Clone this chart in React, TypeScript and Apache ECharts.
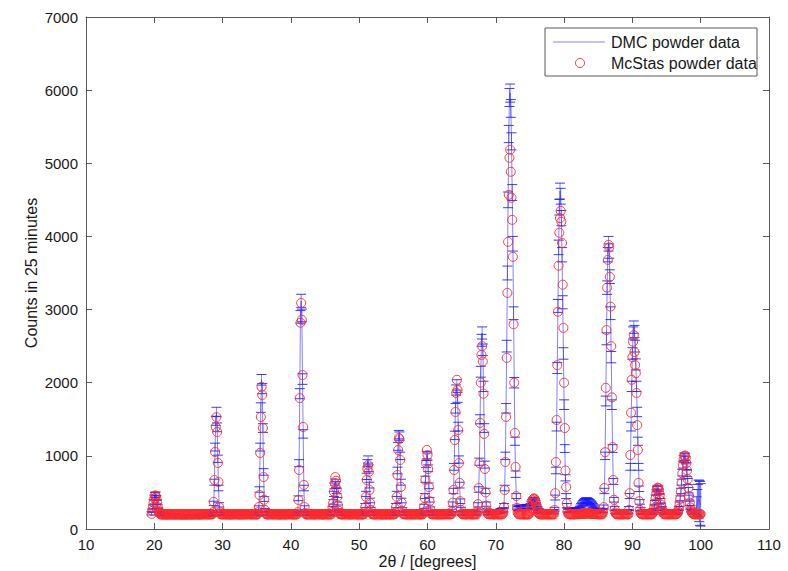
import React, { useEffect, useRef } from "react";
import * as echarts from "echarts";

// 2θ grid of the measurement (degrees)
const TWO_THETA_START = 19.6;
const TWO_THETA_STEP = 0.1;

// DMC measured counts, one row per degree (x.0 ... x.9)
const dmcCounts: number[] = [
  215, 250, 300, 370, // 19.6-19.9
  430, 465, 472, 425, 370, 310, 262, 232, 214, 208, // 20
  205, 210, 198, 202, 207, 195, 200, 204, 198, 193, // 21
  190, 186, 192, 183, 188, 180, 185, 182, 178, 184, // 22
  180, 176, 183, 178, 174, 181, 177, 172, 179, 175, // 23
  178, 173, 170, 176, 172, 168, 175, 171, 169, 174, // 24
  170, 166, 173, 168, 164, 171, 167, 163, 169, 172, // 25
  168, 174, 170, 176, 172, 178, 175, 180, 177, 183, // 26
  185, 190, 187, 193, 196, 192, 198, 201, 197, 203, // 27
  205, 200, 207, 203, 210, 206, 225, 350, 640, 1120, // 28
  1480, 1600, 1390, 960, 560, 330, 245, 215, 208, 212, // 29
  208, 212, 205, 215, 209, 204, 211, 207, 213, 206, // 30
  214, 209, 205, 212, 208, 216, 203, 210, 207, 213, // 31
  206, 211, 215, 208, 204, 212, 209, 214, 207, 210, // 32
  212, 207, 210, 216, 205, 209, 213, 206, 211, 208, // 33
  209, 214, 206, 211, 208, 215, 210, 205, 212, 209, // 34
  210, 206, 225, 290, 540, 1120, 1660, 2040, 1920, 1380, // 35
  780, 410, 255, 218, 208, 212, 206, 210, 214, 207, // 36
  211, 205, 209, 214, 207, 212, 208, 204, 213, 210, // 37
  206, 213, 209, 205, 211, 207, 215, 210, 204, 212, // 38
  209, 204, 212, 208, 214, 206, 210, 213, 207, 211, // 39
  213, 208, 205, 211, 207, 214, 209, 206, 212, 208, // 40
  235, 420, 900, 1850, 2900, 3120, 2920, 2050, 1300, 560, // 41
  290, 225, 207, 211, 205, 213, 209, 206, 212, 208, // 42
  207, 212, 209, 215, 206, 210, 204, 213, 208, 211, // 43
  212, 206, 210, 208, 214, 207, 211, 205, 209, 213, // 44
  208, 213, 206, 210, 215, 209, 204, 212, 207, 211, // 45
  225, 280, 370, 480, 590, 640, 610, 520, 400, 300, // 46
  245, 218, 209, 213, 207, 211, 206, 214, 210, 208, // 47
  212, 207, 215, 209, 204, 211, 208, 213, 206, 210, // 48
  209, 214, 207, 211, 216, 208, 205, 212, 209, 215, // 49
  211, 206, 213, 208, 210, 215, 207, 212, 235, 320, // 50
  480, 720, 900, 950, 830, 600, 390, 270, 220, 210, // 51
  214, 208, 212, 206, 211, 215, 209, 207, 213, 210, // 52
  207, 213, 209, 215, 208, 211, 206, 212, 210, 214, // 53
  212, 208, 215, 210, 206, 213, 209, 216, 211, 207, // 54
  213, 209, 215, 230, 320, 480, 800, 1130, 1290, 1270, // 55
  1000, 640, 390, 265, 220, 212, 208, 215, 210, 213, // 56
  209, 215, 211, 207, 214, 210, 216, 208, 212, 209, // 57
  214, 210, 207, 213, 216, 209, 212, 208, 215, 211, // 58
  210, 216, 212, 208, 230, 310, 450, 680, 890, 1010, // 59
  990, 830, 590, 400, 275, 222, 212, 216, 209, 214, // 60
  211, 217, 213, 209, 215, 212, 218, 210, 214, 211, // 61
  216, 212, 209, 215, 211, 218, 213, 210, 217, 214, // 62
  212, 218, 214, 210, 216, 213, 245, 340, 520, 850, // 63
  1280, 1650, 1900, 1970, 1800, 1400, 950, 600, 380, 270, // 64
  220, 214, 218, 212, 216, 220, 213, 217, 215, 219, // 65
  214, 220, 216, 212, 218, 215, 221, 217, 213, 219, // 66
  216, 222, 218, 245, 330, 540, 920, 1500, 2150, 2580, // 67
  2680, 2450, 1950, 1380, 880, 520, 340, 250, 218, 222, // 68
  220, 226, 223, 218, 225, 229, 222, 227, 231, 226, // 69
  229, 234, 230, 236, 241, 238, 245, 251, 248, 256, // 70
  262, 258, 320, 560, 1000, 1650, 2500, 3500, 4500, 5400, // 71
  5900, 5960, 5750, 5300, 4600, 3900, 2950, 2000, 1200, 750, // 72
  450, 300, 275, 282, 288, 279, 292, 286, 296, 290, // 73
  298, 291, 302, 295, 305, 299, 308, 301, 296, 290, // 74
  300, 320, 350, 370, 390, 400, 395, 380, 360, 330, // 75
  300, 280, 260, 250, 244, 238, 243, 236, 241, 235, // 76
  239, 233, 240, 236, 231, 238, 234, 241, 237, 232, // 77
  239, 235, 242, 238, 233, 240, 270, 430, 800, 1400, // 78
  2200, 3050, 3850, 4400, 4620, 4550, 4250, 3750, 3100, 2400, // 79
  1700, 1100, 700, 450, 320, 260, 245, 252, 248, 255, // 80
  250, 258, 253, 260, 256, 262, 258, 264, 260, 266, // 81
  262, 268, 264, 280, 300, 320, 335, 350, 360, 372, // 82
  380, 385, 392, 395, 390, 386, 380, 372, 365, 355, // 83
  345, 332, 320, 305, 290, 275, 262, 255, 250, 246, // 84
  252, 248, 255, 250, 246, 253, 249, 256, 300, 520, // 85
  1000, 1750, 2600, 3300, 3750, 3900, 3800, 3450, 2950, 2350, // 86
  1700, 1100, 650, 400, 280, 235, 228, 234, 230, 236, // 87
  232, 238, 234, 240, 236, 231, 237, 233, 239, 235, // 88
  231, 237, 233, 239, 235, 280, 450, 850, 1400, 1950, // 89
  2400, 2680, 2760, 2700, 2500, 2250, 1950, 1600, 1200, 850, // 90
  550, 370, 270, 230, 226, 232, 228, 234, 230, 225, // 91
  231, 227, 233, 229, 235, 230, 226, 232, 228, 234, // 92
  225, 255, 300, 360, 430, 500, 545, 560, 550, 510, // 93
  450, 385, 325, 280, 250, 230, 226, 232, 228, 234, // 94
  230, 236, 232, 228, 235, 231, 237, 233, 229, 236, // 95
  232, 238, 234, 230, 237, 233, 225, 245, 280, 340, // 96
  420, 520, 640, 770, 880, 960, 990, 985, 940, 860, // 97
  760, 650, 530, 430, 350, 295, 260, 240, 228, 235, // 98
  232, 238, 234, 240, 320, 360, 390, 410, 380, 350, // 99
  330, // 100.0
];

// DMC error bars of the last detector channels (99.4 - 100.0)
const dmcEdgeErrors: number[] = [120, 180, 220, 260, 280, 300, 290];
// statistical error scale of the DMC counts
const ERROR_SCALE = 1.6;

// McStas simulated counts, same grid
const mcstasCounts: number[] = [
  205, 248, 295, 362, // 19.6-19.9
  418, 458, 455, 430, 360, 300, 255, 226, 210, 203, // 20
  198, 202, 196, 200, 205, 199, 197, 203, 200, 196, // 21
  199, 203, 197, 201, 198, 204, 200, 196, 202, 199, // 22
  201, 197, 203, 199, 196, 202, 198, 204, 200, 197, // 23
  200, 196, 202, 198, 203, 199, 195, 201, 197, 203, // 24
  198, 204, 200, 196, 202, 198, 201, 197, 203, 199, // 25
  202, 198, 204, 200, 196, 203, 199, 201, 197, 202, // 26
  199, 203, 198, 202, 200, 205, 201, 197, 204, 200, // 27
  201, 198, 204, 200, 203, 199, 230, 370, 670, 1053, // 28
  1395, 1530, 1327, 903, 643, 300, 230, 205, 199, 202, // 29
  198, 203, 200, 205, 197, 202, 199, 204, 201, 196, // 30
  203, 199, 202, 197, 204, 200, 198, 205, 201, 199, // 31
  200, 205, 198, 202, 199, 203, 196, 201, 204, 198, // 32
  202, 197, 204, 200, 203, 198, 201, 205, 199, 203, // 33
  199, 204, 200, 197, 203, 201, 205, 198, 202, 200, // 34
  201, 198, 230, 300, 465, 1040, 1532, 1943, 1833, 1382, // 35
  711, 400, 260, 215, 200, 203, 198, 202, 199, 204, // 36
  200, 204, 197, 202, 199, 205, 201, 198, 203, 200, // 37
  202, 198, 203, 200, 196, 204, 199, 201, 205, 197, // 38
  199, 203, 201, 197, 202, 205, 198, 204, 200, 202, // 39
  204, 200, 198, 203, 199, 201, 205, 197, 202, 200, // 40
  230, 397, 807, 1790, 2820, 3090, 2860, 2105, 1395, 602, // 41
  300, 220, 199, 202, 197, 203, 200, 204, 198, 202, // 42
  199, 202, 204, 198, 201, 197, 203, 200, 205, 199, // 43
  203, 199, 201, 205, 198, 202, 200, 196, 204, 201, // 44
  200, 204, 198, 203, 199, 201, 205, 197, 202, 200, // 45
  230, 290, 355, 510, 630, 710, 660, 540, 440, 320, // 46
  250, 215, 201, 204, 198, 202, 199, 205, 200, 203, // 47
  198, 202, 205, 199, 203, 200, 196, 204, 201, 199, // 48
  203, 199, 201, 205, 198, 202, 204, 199, 200, 197, // 49
  201, 205, 199, 203, 200, 196, 204, 202, 230, 300, // 50
  440, 670, 820, 875, 780, 533, 355, 260, 215, 203, // 51
  199, 204, 200, 197, 203, 201, 205, 198, 202, 200, // 52
  204, 198, 202, 200, 196, 203, 199, 205, 201, 197, // 53
  200, 203, 199, 204, 201, 197, 202, 200, 205, 199, // 54
  203, 199, 204, 225, 300, 440, 739, 1080, 1245, 1230, // 55
  944, 575, 360, 250, 212, 201, 205, 199, 203, 200, // 56
  198, 203, 200, 205, 199, 202, 197, 204, 200, 203, // 57
  201, 197, 204, 200, 203, 199, 205, 201, 198, 202, // 58
  204, 200, 203, 199, 225, 300, 424, 670, 900, 1080, // 59
  1012, 820, 575, 380, 265, 215, 202, 199, 204, 200, // 60
  203, 199, 205, 201, 197, 204, 200, 202, 198, 205, // 61
  200, 204, 198, 203, 201, 205, 199, 202, 204, 200, // 62
  205, 201, 199, 204, 200, 203, 240, 360, 533, 807, // 63
  1217, 1600, 1860, 2040, 1900, 1354, 900, 630, 380, 260, // 64
  215, 203, 199, 205, 201, 204, 200, 198, 203, 201, // 65
  204, 200, 203, 199, 205, 201, 197, 203, 200, 204, // 66
  201, 205, 199, 240, 340, 560, 900, 1450, 2000, 2380, // 67
  2500, 2290, 1850, 1300, 820, 500, 320, 240, 212, 204, // 68
  200, 204, 199, 203, 206, 201, 198, 204, 200, 203, // 69
  199, 205, 201, 203, 198, 204, 200, 206, 202, 199, // 70
  204, 230, 300, 533, 916, 1532, 2339, 3228, 3926, 4569, // 71
  5075, 5185, 4884, 4528, 4227, 3721, 2800, 2000, 1313, 848, // 72
  450, 290, 230, 206, 201, 204, 199, 203, 200, 205, // 73
  201, 198, 204, 200, 203, 199, 205, 201, 197, 210, // 74
  240, 280, 320, 360, 390, 410, 420, 405, 380, 340, // 75
  300, 260, 230, 212, 203, 199, 204, 200, 202, 198, // 76
  203, 200, 205, 199, 202, 204, 198, 201, 205, 200, // 77
  202, 198, 204, 200, 203, 199, 260, 490, 916, 1490, // 78
  2240, 2970, 3600, 4050, 4250, 4350, 4200, 3910, 3340, 2750, // 79
  2000, 1380, 800, 575, 350, 240, 210, 204, 200, 203, // 80
  199, 205, 201, 204, 200, 198, 203, 206, 201, 204, // 81
  200, 205, 202, 207, 203, 209, 205, 211, 207, 213, // 82
  209, 214, 210, 215, 212, 216, 211, 214, 209, 212, // 83
  208, 211, 206, 209, 204, 207, 203, 206, 201, 204, // 84
  200, 203, 199, 205, 201, 204, 200, 230, 300, 560, // 85
  1050, 1930, 2720, 3300, 3680, 3885, 3850, 3447, 3040, 2500, // 86
  1800, 1120, 670, 400, 270, 225, 206, 201, 204, 199, // 87
  203, 200, 205, 201, 198, 204, 200, 203, 199, 205, // 88
  201, 204, 200, 203, 199, 260, 490, 1012, 1590, 2040, // 89
  2350, 2560, 2650, 2420, 2240, 2130, 1860, 1420, 1080, 630, // 90
  380, 260, 220, 204, 200, 203, 199, 205, 201, 204, // 91
  200, 203, 198, 204, 201, 205, 199, 202, 200, 204, // 92
  220, 245, 290, 350, 420, 490, 545, 565, 560, 525, // 93
  465, 395, 330, 280, 245, 222, 205, 200, 203, 199, // 94
  204, 200, 203, 198, 205, 201, 199, 204, 200, 203, // 95
  199, 205, 201, 203, 200, 204, 220, 240, 275, 330, // 96
  410, 510, 630, 760, 870, 950, 1000, 1005, 970, 900, // 97
  800, 680, 560, 450, 360, 295, 255, 230, 215, 205, // 98
  201, 204, 199, 203, 200, 205, 201, 198, 203, 200, // 99
  204, // 100.0
];

const xTitle = "2\u03b8 / [degrees]";
const yTitle = "Counts in 25 minutes";
const legendLabels = ["DMC powder data", "McStas powder data"];

const FONT = '"Liberation Sans", Arial, Helvetica, sans-serif';
const TEXT_COLOR = "#1a1a1a";
const AXIS_COLOR = "#5a5a5a";
const BLUE_LINE = "rgba(50,50,255,0.6)";
const BLUE_CAP = "rgba(25,25,255,0.85)";
const RED = "#ff2a2a";

const twoTheta = dmcCounts.map((_, i) =>
  Number((TWO_THETA_START + i * TWO_THETA_STEP).toFixed(1))
);

function dmcError(i: number, y: number): number {
  const edgeStart = dmcCounts.length - dmcEdgeErrors.length;
  if (i >= edgeStart) return dmcEdgeErrors[i - edgeStart];
  return ERROR_SCALE * Math.sqrt(y);
}

export default function App() {
  const ref = useRef<HTMLDivElement>(null);

  useEffect(() => {
    if (!ref.current) return;
    const chart = echarts.init(ref.current, null, { renderer: "svg" });

    const dmcLine = dmcCounts.map((y, i) => [twoTheta[i], y]);
    const dmcErr = dmcCounts.map((y, i) => [twoTheta[i], y, dmcError(i, y)]);
    const mcPoints = mcstasCounts.map((y, i) => [twoTheta[i], y]);

    const axisLine = { show: true, onZero: false, lineStyle: { color: AXIS_COLOR, width: 1 } };
    const axisTick = { show: true, inside: true, length: 6, lineStyle: { color: AXIS_COLOR, width: 1 } };
    const axisLabel = {
      fontSize: 15, color: TEXT_COLOR, fontFamily: FONT, margin: 8,
      formatter: (v: number) => String(v),
    };

    const option: any = {
      animation: false,
      backgroundColor: "#ffffff",
      grid: {
        left: 86, top: 17, width: 683, height: 512,
        containLabel: false, outerBoundsMode: "none",
      },
      xAxis: [
        {
          type: "value", min: 10, max: 110, interval: 10, position: "bottom",
          name: xTitle, nameLocation: "middle", nameGap: 24, nameMoveOverlap: false,
          nameTextStyle: { fontSize: 16, lineHeight: 17, color: TEXT_COLOR, fontFamily: FONT },
          axisLine, axisTick, axisLabel, splitLine: { show: false },
        },
        {
          type: "value", min: 10, max: 110, interval: 10, position: "top",
          axisLine, axisTick, axisLabel: { show: false }, splitLine: { show: false },
        },
      ],
      yAxis: [
        {
          type: "value", min: 0, max: 7000, interval: 1000, position: "left",
          name: yTitle, nameLocation: "middle", nameGap: 47, nameMoveOverlap: false,
          nameTextStyle: { fontSize: 16, color: TEXT_COLOR, fontFamily: FONT },
          axisLine, axisTick, axisLabel, splitLine: { show: false },
        },
        {
          type: "value", min: 0, max: 7000, interval: 1000, position: "right",
          axisLine, axisTick, axisLabel: { show: false }, splitLine: { show: false },
        },
      ],
      series: [
        {
          name: legendLabels[0], type: "line", xAxisIndex: 0, yAxisIndex: 0,
          data: dmcLine, showSymbol: false, symbol: "none",
          lineStyle: { color: BLUE_LINE, width: 1 }, z: 2, silent: true,
        },
        {
          name: legendLabels[0] + " errors", type: "custom", xAxisIndex: 0, yAxisIndex: 0,
          data: dmcErr, encode: { x: 0, y: 1 }, z: 3, silent: true, clip: true,
          renderItem: (_p: any, api: any) => {
            const x = api.value(0), y = api.value(1), e = api.value(2);
            const c = api.coord([x, y]);
            const hi = api.coord([x, y + e])[1];
            const lo = api.coord([x, y - e])[1];
            const w = 5;
            const capStyle = { stroke: BLUE_CAP, lineWidth: 1, fill: null };
            return {
              type: "group",
              children: [
                { type: "line", shape: { x1: c[0], y1: hi, x2: c[0], y2: lo }, style: { stroke: BLUE_LINE, lineWidth: 1 } },
                { type: "line", shape: { x1: c[0] - w, y1: hi, x2: c[0] + w, y2: hi }, style: capStyle },
                { type: "line", shape: { x1: c[0] - w, y1: lo, x2: c[0] + w, y2: lo }, style: capStyle },
              ],
            };
          },
        },
        {
          name: legendLabels[1], type: "scatter", xAxisIndex: 0, yAxisIndex: 0,
          data: mcPoints, symbol: "circle", symbolSize: 9, z: 4, silent: true,
          itemStyle: { color: "rgba(0,0,0,0)", borderColor: RED, borderWidth: 1, opacity: 0.9 },
        },
      ],
      graphic: [
        {
          type: "rect", z: 100, shape: { x: 545, y: 28, width: 212, height: 48 },
          style: { fill: "#ffffff", stroke: AXIS_COLOR, lineWidth: 1 },
        },
        {
          type: "line", z: 101, shape: { x1: 553, y1: 42, x2: 605, y2: 42 },
          style: { stroke: BLUE_LINE, lineWidth: 1 },
        },
        {
          type: "circle", z: 101, shape: { cx: 580, cy: 63, r: 4.5 },
          style: { fill: "none", stroke: RED, lineWidth: 1, opacity: 0.9 },
        },
        {
          type: "text", z: 101, x: 611, y: 42,
          style: { text: legendLabels[0], fontSize: 16, fontFamily: FONT, fill: TEXT_COLOR, textAlign: "left", textVerticalAlign: "middle" },
        },
        {
          type: "text", z: 101, x: 611, y: 63,
          style: { text: legendLabels[1], fontSize: 16, fontFamily: FONT, fill: TEXT_COLOR, textAlign: "left", textVerticalAlign: "middle" },
        },
      ],
    };

    chart.setOption(option);
    return () => chart.dispose();
  }, []);

  return (
    <div
      ref={ref}
      style={{ position: "absolute", left: 0, top: 0, width: 788, height: 571, background: "#ffffff" }}
    />
  );
}
